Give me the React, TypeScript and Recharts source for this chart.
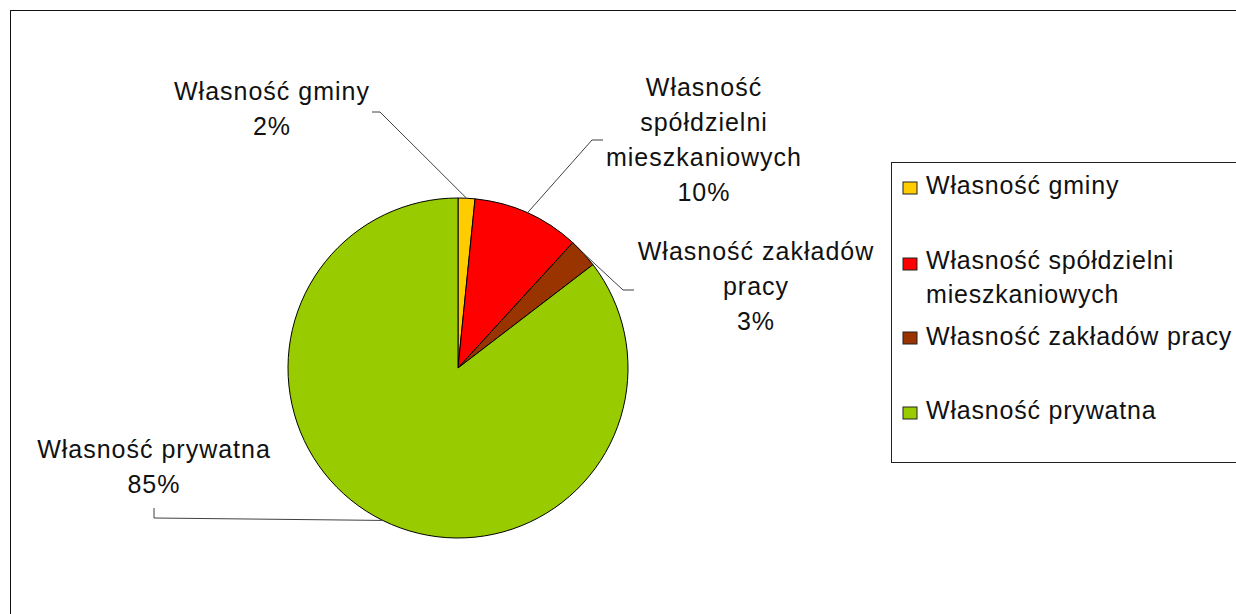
import React from "react";
import { PieChart, Pie, Cell, Legend } from "recharts";

// shares of dwellings by ownership
const categories = [
  "Własność gminy",
  "Własność spółdzielni mieszkaniowych",
  "Własność zakładów pracy",
  "Własność prywatna",
];
const shares = [1.6, 10.2, 2.8, 85.4];
const colors = ["#FFCC00", "#FF0000", "#993300", "#99CC00"];

// how the text is broken into lines on the chart and in the legend
const labelLines = [
  ["Własność gminy"],
  ["Własność", "spółdzielni", "mieszkaniowych"],
  ["Własność zakładów", "pracy"],
  ["Własność prywatna"],
];
const legendLines = [
  ["Własność gminy"],
  ["Własność spółdzielni", "mieszkaniowych"],
  ["Własność zakładów pracy"],
  ["Własność prywatna"],
];

const FONT = "'Liberation Sans', Arial, sans-serif";
const FONT_SIZE = 25;
const SPACING = 1;
const LINE_H = 35;

// label placement: text centre + first baseline, and the leader line bends
const labelPlace = [
  { x: 272, y: 100, bend: [[380, 112], [372, 112]] },
  { x: 704, y: 96, bend: [[592, 140], [603, 140]] },
  { x: 756, y: 260, bend: [[623, 290], [634, 290]] },
  { x: 154, y: 458, bend: [[154, 518], [154, 508]] },
];

// legend rows: key centre y, first baseline (relative to legend box)
const legendRows = [
  { key: 25, base: 31 },
  { key: 101, base: 106 },
  { key: 175, base: 182 },
  { key: 250, base: 256 },
];

const data = categories.map((name, i) => ({ name, value: shares[i] }));

const RAD = Math.PI / 180;

function renderLabel(props: any) {
  const { cx, cy, midAngle, outerRadius, percent, index } = props;
  const sx = cx + outerRadius * Math.cos(-midAngle * RAD);
  const sy = cy + outerRadius * Math.sin(-midAngle * RAD);
  const place = labelPlace[index];
  const pts = [[sx, sy], ...place.bend].map((p) => p.join(",")).join(" ");
  const lines = [...labelLines[index], `${Math.round(percent * 100)}%`];
  return (
    <g key={`lbl-${index}`}>
      <polyline points={pts} fill="none" stroke="#404040" strokeWidth={1} />
      <text
        x={place.x}
        y={place.y}
        textAnchor="middle"
        fontFamily={FONT}
        fontSize={FONT_SIZE}
        letterSpacing={SPACING}
        fill="#111"
      >
        {lines.map((ln, k) => (
          <tspan key={k} x={place.x} y={place.y + k * LINE_H}>
            {ln}
          </tspan>
        ))}
      </text>
    </g>
  );
}

function LegendBox() {
  return (
    <div
      style={{
        width: 350,
        height: 301,
        border: "1px solid #222",
        background: "#fff",
        boxSizing: "border-box",
      }}
    >
      <svg width={350} height={300}>
        {legendRows.map((row, i) => (
          <g key={i}>
            <rect
              x={11}
              y={row.key - 6}
              width={14}
              height={12}
              fill={colors[i]}
              stroke="#222"
              strokeWidth={1}
            />
            <text
              x={34}
              y={row.base}
              fontFamily={FONT}
              fontSize={FONT_SIZE}
              letterSpacing={0.8}
              fill="#111"
            >
              {legendLines[i].map((ln, k) => (
                <tspan key={k} x={34} y={row.base + k * 34}>
                  {ln}
                </tspan>
              ))}
            </text>
          </g>
        ))}
      </svg>
    </div>
  );
}

export default function App() {
  return (
    <div
      style={{
        position: "absolute",
        left: 0,
        top: 0,
        width: 1236,
        height: 614,
        background: "#fff",
        overflow: "hidden",
        fontFamily: FONT,
      }}
    >
      <div
        style={{
          position: "absolute",
          left: 10,
          top: 10,
          width: 1300,
          height: 700,
          borderLeft: "1.5px solid #111",
          borderTop: "1.5px solid #111",
        }}
      />
      <div style={{ position: "absolute", left: 0, top: 0 }}>
        <PieChart width={1236} height={614} margin={{ top: 0, right: 0, bottom: 0, left: 0 }}>
          <Pie
            data={data}
            dataKey="value"
            nameKey="name"
            cx={458}
            cy={368}
            outerRadius={170}
            startAngle={90}
            endAngle={-270}
            stroke="#000"
            strokeWidth={1}
            label={renderLabel}
            labelLine={false}
            isAnimationActive={false}
          >
            {data.map((d, i) => (
              <Cell key={d.name} fill={colors[i]} />
            ))}
          </Pie>
          <Legend
            layout="vertical"
            align="right"
            verticalAlign="middle"
            content={() => <LegendBox />}
            wrapperStyle={{ left: 891, top: 162, width: 350, height: 301, right: "auto", bottom: "auto" }}
          />
        </PieChart>
      </div>
    </div>
  );
}
